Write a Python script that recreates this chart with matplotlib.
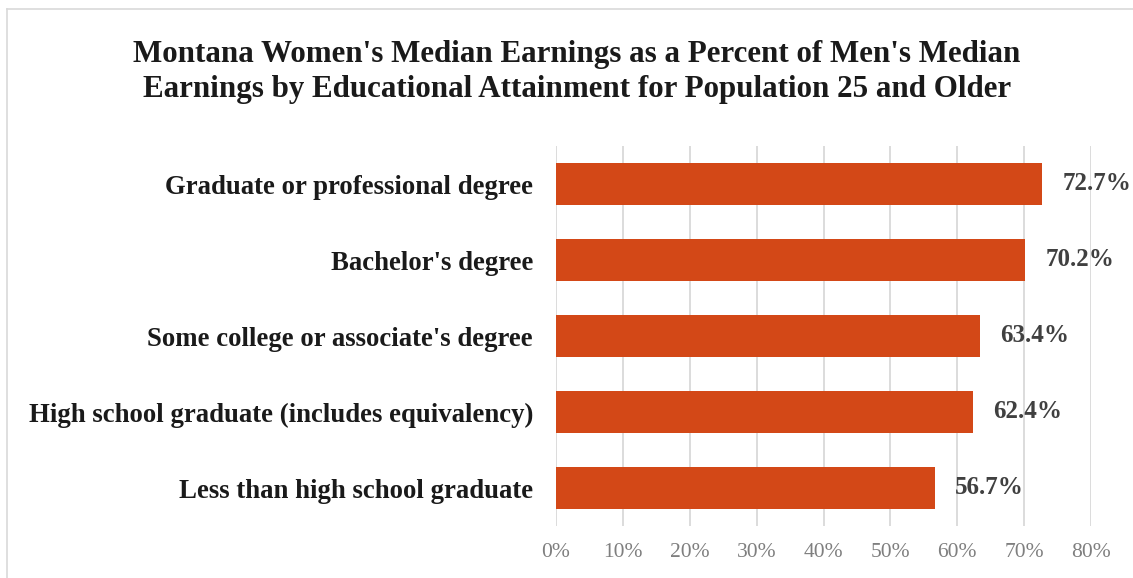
import matplotlib.pyplot as plt
from matplotlib.lines import Line2D

# Niveaux d'éducation (de haut en bas) et ratios femmes/hommes en %
categories = [
    "Graduate or professional degree",
    "Bachelor's degree",
    "Some college or associate's degree",
    "High school graduate (includes equivalency)",
    "Less than high school graduate",
]
valeurs = [72.7, 70.2, 63.4, 62.4, 56.7]
ticks = [0, 10, 20, 30, 40, 50, 60, 70, 80]
tick_labels = ["0%", "10%", "20%", "30%", "40%", "50%", "60%", "70%", "80%"]

plt.rcParams["font.family"] = ["Liberation Serif", "DejaVu Serif"]

W, H = 1133, 578
fig = plt.figure(figsize=(W / 100, H / 100), dpi=100)
ax = fig.add_axes([556 / W, 1 - 526 / H, (1091 - 556) / W, (526 - 146) / H])

pos = list(range(len(categories)))
ax.barh(pos, valeurs, height=0.555, color="#D34817", zorder=3)
ax.set_ylim(len(categories) - 0.5, -0.5)
ax.set_xlim(0, 80)

ax.set_xticks(ticks)
ax.set_xticklabels(tick_labels, fontsize=15.5, color="#7F7F7F")
ax.set_yticks(pos)
ax.set_yticklabels(categories, fontsize=19.3, fontweight="bold", color="#1A1A1A")
ax.tick_params(axis="both", length=0)
ax.tick_params(axis="x", pad=12)
ax.tick_params(axis="y", pad=16.5)

ax.grid(axis="x", color="#D9D9D9", linewidth=1.3, zorder=0)
for s in ax.spines.values():
    s.set_visible(False)

for i, v in enumerate(valeurs):
    ax.text(v + 3.0, i, f"{v:.1f}%", va="center", ha="left",
            fontsize=18, fontweight="bold", color="#404040", zorder=4)

fig.text(577 / W, 1 - 72 / H,
         "Montana Women's Median Earnings as a Percent of Men's Median\n"
         "Earnings by Educational Attainment for Population 25 and Older",
         ha="center", va="center", fontsize=22.3, fontweight="bold",
         color="#1A1A1A", linespacing=1.3)

# cadre gris clair (haut et gauche)
fig.add_artist(Line2D([7 / W, 1], [1 - 9 / H, 1 - 9 / H], transform=fig.transFigure,
                      color="#D9D9D9", linewidth=1.2))
fig.add_artist(Line2D([7 / W, 7 / W], [0, 1 - 9 / H], transform=fig.transFigure,
                      color="#D9D9D9", linewidth=1.2))

fig.savefig("out.png", dpi=100)
